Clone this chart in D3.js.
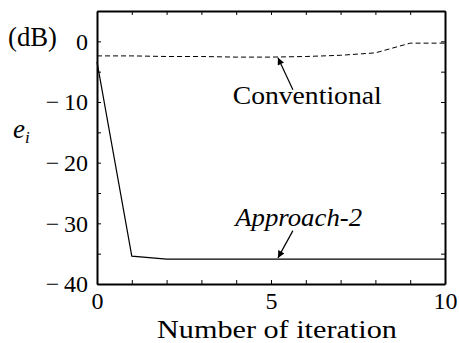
<!DOCTYPE html>
<html>
<head>
    <meta charset="UTF-8">
</head>
<body style="margin:0">
    <svg width="459" height="343"></svg>

    <script src="https://d3js.org/d3.v7.min.js"></script>
    <script>

        // Iteration number (x) and error in dB for both methods
        const iterations = [0, 1, 2, 3, 4, 5, 6, 7, 8, 9, 10];
        const conventional = [-2.4, -2.4, -2.5, -2.5, -2.6, -2.6, -2.5, -2.3, -1.9, -0.3, -0.3];
        const approach2 = [-3.4, -35.4, -35.9, -35.9, -35.9, -35.9, -35.9, -35.9, -35.9, -35.9, -35.9];

        // Tick values
        const xTicks = d3.range(0, 11, 1);
        const xLabelled = [0, 5, 10];
        const yTicks = d3.range(-40, 6, 5);
        const yLabelled = [-40, -30, -20, -10, 0];

        const serif = 'Liberation Serif';

        const margin = { left: 97, right: 14, top: 11, bottom: 59 };

        const svg = d3.select('svg');
        const width = +svg.attr('width');
        const height = +svg.attr('height');
        const innerWidth = width - margin.left - margin.right;
        const innerHeight = height - margin.top - margin.bottom;

        const xScale = d3.scaleLinear().domain([0, 10]).range([0, innerWidth]);
        const yScale = d3.scaleLinear().domain([-40, 5]).range([innerHeight, 0]);

        const g = svg.append('g')
            .attr('transform', 'translate(' + margin.left + ',' + margin.top + ')');

        const fmtY = function (d) {
            if (yLabelled.indexOf(d) < 0) return '';
            return d < 0 ? '\u2212\u2009' + Math.abs(d) : String(d);
        };
        const fmtX = function (d) {
            return xLabelled.indexOf(d) < 0 ? '' : String(d);
        };

        // Box: ticks point inwards on all four sides
        g.append('g')
            .attr('transform', 'translate(0,' + innerHeight + ')')
            .call(d3.axisBottom(xScale).tickValues(xTicks).tickFormat(fmtX)
                .tickSizeInner(-4).tickSizeOuter(0).tickPadding(8));

        g.append('g')
            .call(d3.axisTop(xScale).tickValues(xTicks).tickFormat('')
                .tickSizeInner(-4).tickSizeOuter(0));

        g.append('g')
            .call(d3.axisLeft(yScale).tickValues(yTicks).tickFormat(fmtY)
                .tickSizeInner(-4).tickSizeOuter(0).tickPadding(9));

        g.append('g')
            .attr('transform', 'translate(' + innerWidth + ',0)')
            .call(d3.axisRight(yScale).tickValues(yTicks).tickFormat('')
                .tickSizeInner(-4).tickSizeOuter(0));

        // drop the empty tick labels and style the rest
        g.selectAll('.tick text').filter(function () { return this.textContent === ''; }).remove();
        g.selectAll('g').attr('font-family', null).attr('font-size', null);
        g.selectAll('.tick text')
            .attr('font-family', serif)
            .attr('font-size', 24)
            .attr('fill', '#000');
        g.selectAll('.tick line').attr('stroke', '#000');
        g.selectAll('.domain').attr('stroke', '#000').attr('stroke-width', 2);

        // Series
        const line = d3.line()
            .x(function (d) { return xScale(d[0]); })
            .y(function (d) { return yScale(d[1]); });

        g.append('path')
            .datum(d3.zip(iterations, conventional))
            .attr('d', line)
            .attr('fill', 'none')
            .attr('stroke', '#000')
            .attr('stroke-width', 1)
            .attr('stroke-dasharray', '5,3');

        g.append('path')
            .datum(d3.zip(iterations, approach2))
            .attr('d', line)
            .attr('fill', 'none')
            .attr('stroke', '#000')
            .attr('stroke-width', 1.2);

        // Annotation arrows (data coordinates: tail -> tip)
        svg.append('defs').append('marker')
            .attr('id', 'head')
            .attr('viewBox', '0 0 10 10')
            .attr('refX', 10).attr('refY', 5)
            .attr('markerWidth', 9).attr('markerHeight', 7)
            .attr('markerUnits', 'userSpaceOnUse')
            .attr('orient', 'auto')
            .append('path')
            .attr('d', 'M0,0L10,5L0,10z')
            .attr('fill', '#000');

        const arrows = [
            { from: [5.63, -8.0], to: [5.2, -2.7] },
            { from: [5.63, -31.2], to: [5.2, -35.7] }
        ];

        g.selectAll('.arrow')
            .data(arrows)
            .enter()
            .append('line')
            .attr('class', 'arrow')
            .attr('x1', function (d) { return xScale(d.from[0]); })
            .attr('y1', function (d) { return yScale(d.from[1]); })
            .attr('x2', function (d) { return xScale(d.to[0]); })
            .attr('y2', function (d) { return yScale(d.to[1]); })
            .attr('stroke', '#000')
            .attr('stroke-width', 1.2)
            .attr('marker-end', 'url(#head)');

        // Labels, stretched to the widths the TeX font takes in the figure
        const labels = [
            { text: 'Conventional', x: xScale(3.9) + margin.left, y: yScale(-10.4) + margin.top, size: 26, width: 149 },
            { text: 'Approach-2', x: xScale(3.97) + margin.left, y: yScale(-30.5) + margin.top, size: 26, width: 127, italic: true },
            { text: 'Number of iteration', x: 157, y: 338, size: 25, width: 240 },
            { text: '(dB)', x: 8, y: 46, size: 27, width: 49 }
        ];

        labels.forEach(function (l) {
            const t = svg.append('text')
                .attr('x', l.x)
                .attr('y', l.y)
                .attr('font-family', serif)
                .attr('font-size', l.size)
                .attr('font-style', l.italic ? 'italic' : 'normal')
                .text(l.text);
            const w = t.node().getComputedTextLength();
            t.attr('transform', 'translate(' + l.x + ',0) scale(' + (l.width / w) + ',1) translate(' + (-l.x) + ',0)');
        });

        const ei = svg.append('text')
            .attr('x', 13)
            .attr('y', 138)
            .attr('font-family', serif)
            .attr('font-size', 27)
            .attr('font-style', 'italic');
        ei.append('tspan').text('e');
        ei.append('tspan')
            .attr('dy', 5)
            .attr('font-size', 17)
            .text('i');

        svg.selectAll('text').each(function () { this.getComputedTextLength(); });

    </script>
</body>
</html>
